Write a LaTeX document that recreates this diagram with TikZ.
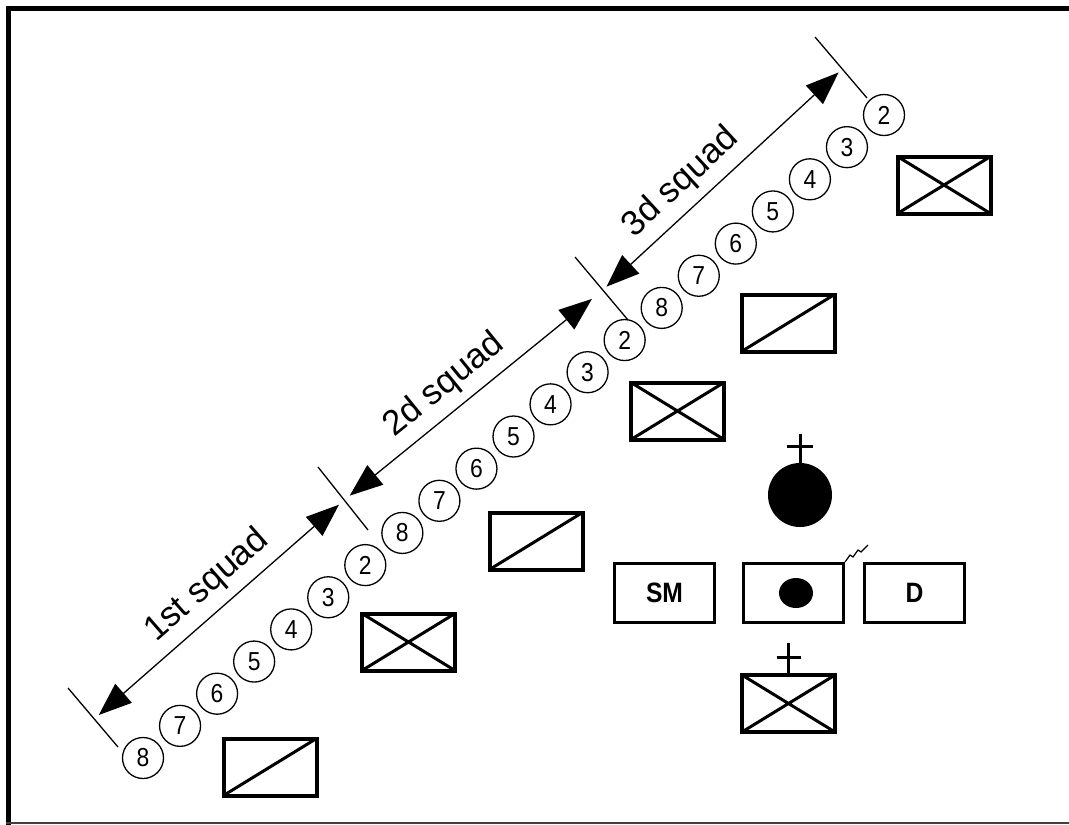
\documentclass[tikz,border=0pt]{standalone}
\usepackage{fontspec}
\setmainfont{Liberation Sans}
\newfontfamily\narrowsans{Liberation Sans}[FakeStretch=0.88]
\usetikzlibrary{arrows.meta,calc,positioning,shapes.geometric}

\begin{document}
\begin{tikzpicture}[x=1pt,y=-1pt,
  soldier/.style={draw,circle,line width=1.3pt,minimum size=41pt,inner sep=0pt,font=\narrowsans\fontsize{26}{26}\selectfont},
  unitbox/.style={draw,line width=4pt,minimum width=93pt,minimum height=57pt,inner sep=0pt,outer sep=0pt},
  vehbox/.style={draw,line width=3pt,minimum width=100pt,minimum height=59pt,inner sep=0pt,font=\narrowsans\fontsize{28}{28}\selectfont\bfseries},
  sqtick/.style={line width=1.3pt},
  sqspan/.style={line width=1.3pt,{Triangle[length=33pt,width=25pt]}-{Triangle[length=33pt,width=25pt]}},
  squadlabel/.style={above=9pt,sloped,inner sep=0pt,font=\fontsize{35}{35}\selectfont}]
\useasboundingbox (0,0) rectangle (1069,825);
% frame
\draw[line width=5pt] (8.5,825) -- (8.5,8.5) -- (1069,8.5);
\draw[line width=2pt,black!75] (6,823) -- (1069,823);

% soldiers of the three squads
\foreach \i [evaluate=\i as \n using {int(8-mod(\i,7))}] in {0,...,20}
  \node[soldier] (s\i) at ({143+37.05*\i},{758-32.15*\i}) {\n};

% squad limits
\foreach \k/\lx/\ly/\hx/\hy in {1/118/747/68/688, 2/368/530/318/467, 3/628/320/575/257, 4/867/98/815/37} {
  \coordinate (lo\k) at (\lx,\ly);
  \coordinate (hi\k) at (\hx,\hy);
  \draw[sqtick] (lo\k) -- (hi\k);
  \coordinate (a\k) at ($(lo\k)!0.475!(hi\k)$);
}
\draw[sqspan,shorten <=6pt,shorten >=7pt] (a1) -- node[squadlabel,pos=0.52] (l1) {1st squad} (a2);
\draw[sqspan,shorten <=7pt,shorten >=14pt] (a2) -- node[squadlabel,pos=0.45] (l2) {2d squad} (a3);
\draw[sqspan,shorten <=5pt,shorten >=5pt] (a3) -- node[squadlabel,pos=0.4] (l3) {3d squad} (a4);

% vehicles
\foreach \v/\x/\y in {1/270/767, 3/536/541, 5/788/323} {
  \node[unitbox] (v\v) at (\x,\y) {};
  \draw[line width=3pt] (v\v.south west) -- (v\v.north east);
}
\foreach \v/\x/\y in {2/408.5/642, 4/677.5/411, 6/944/185} {
  \node[unitbox] (v\v) at (\x,\y) {};
  \draw[line width=3pt] (v\v.south west) -- (v\v.north east) (v\v.north west) -- (v\v.south east);
}

% platoon headquarters
\node[fill,circle,minimum size=64pt,inner sep=0pt] (hq) at (800,495) {};
\draw[line width=3pt] (hq.north) -- ++(0,-29);
\draw[line width=3pt] ($(hq.north)+(-13,-16)$) -- ++(26,0);

\node[vehbox] (plt) at (793.5,593) {};
\node[fill,ellipse,minimum width=34pt,minimum height=30pt,inner sep=0pt] (pdot) at ([xshift=2.5pt]plt.center) {};
\node[vehbox,left=26pt of plt] (sm) {SM};
\node[vehbox,right=18pt of plt] (dv) {D};
\draw[line width=1.2pt] (plt.north east) -- ++(5,-7) -- ++(3,2) -- ++(5,-7) -- ++(3,2) -- ++(7,-7);

\node[unitbox] (psg) at (788.5,703.5) {};
\draw[line width=3pt] (psg.south west) -- (psg.north east) (psg.north west) -- (psg.south east);
\draw[line width=3pt] (psg.north) -- ++(0,-32);
\draw[line width=3pt] ($(psg.north)+(-12,-18)$) -- ++(24,0);
\end{tikzpicture}
\end{document}
